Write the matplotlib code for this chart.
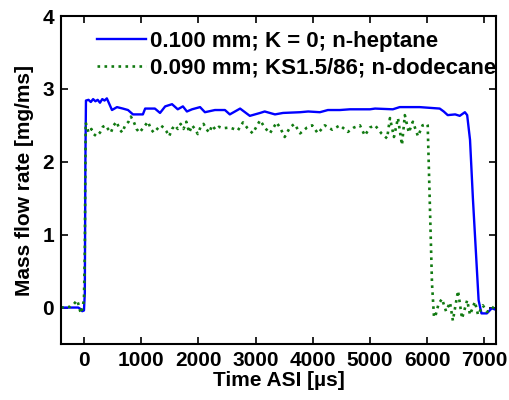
import numpy as np
import matplotlib.pyplot as plt

plt.rcParams['font.family'] = ['Liberation Sans', 'DejaVu Sans']

# n-heptane, 0.100 mm, K = 0
t_hep = [-400, -100, -60, -30, 0, 15, 25, 35, 80, 120, 160, 200, 240, 280, 320, 360, 400,
         490, 577, 680, 770, 857, 1030, 1070, 1240, 1330, 1420, 1540, 1640, 1730, 1800,
         1890, 2030, 2115, 2290, 2465, 2550, 2730, 2900, 3080, 3160, 3340, 3480, 3780,
         3920, 4125, 4265, 4475, 4650, 5000, 5090, 5400, 5520, 5870, 6220, 6290, 6360,
         6490, 6570, 6660, 6700, 6750, 6800, 6900, 6950, 7045, 7130, 7200]
m_hep = [0.0, 0.0, -0.02, -0.05, -0.04, 0.2, 2.0, 2.84, 2.85, 2.82, 2.86, 2.83, 2.85, 2.81,
         2.86, 2.84, 2.87, 2.71, 2.75, 2.73, 2.71, 2.65, 2.65, 2.73, 2.73, 2.67, 2.76, 2.79,
         2.72, 2.76, 2.69, 2.72, 2.75, 2.68, 2.71, 2.71, 2.65, 2.73, 2.63, 2.67, 2.69, 2.65,
         2.67, 2.68, 2.69, 2.68, 2.71, 2.71, 2.72, 2.72, 2.73, 2.72, 2.75, 2.75, 2.73, 2.69,
         2.64, 2.65, 2.63, 2.68, 2.64, 2.3, 1.5, 0.1, -0.08, -0.08, -0.01, -0.03]

# n-dodecane, 0.090 mm, KS1.5/86
t_dod = [-400, -245, -175, -120, -90, -70, -50, -20, 0, 15, 30, 80, 130, 170, 220, 280,
         330, 380, 420, 470, 520, 570, 620, 670, 720, 780, 820, 870, 920, 970, 1020, 1070,
         1120, 1170, 1220, 1280, 1340, 1390, 1440, 1490, 1540, 1590, 1640, 1690, 1740,
         1790, 1840, 1890, 1940, 1990, 2040, 2090, 2140, 2190, 2240, 2300, 2360, 2430,
         2550, 2690, 2780, 2860, 2950, 3080, 3160, 3250, 3370, 3440, 3510, 3600, 3680,
         3780, 3900, 3990, 4090, 4210, 4340, 4475, 4615, 4720, 4825, 4910, 5000, 5090,
         5200, 5300, 5350, 5420, 5490, 5560, 5610, 5680, 5750, 5840, 5920, 6000, 6010,
         6085, 6120, 6140, 6200, 6260, 6330, 6400, 6450, 6540, 6610, 6700, 6750, 6835,
         6890, 6975, 7045, 7130, 7185]
m_dod = [0.0, 0.01, 0.05, 0.1, 0.03, -0.04, -0.08, 0.03, 0.1, 0.8, 2.54, 2.40, 2.45, 2.38,
         2.35, 2.40, 2.48, 2.50, 2.45, 2.40, 2.50, 2.55, 2.45, 2.40, 2.50, 2.55, 2.62, 2.55,
         2.45, 2.40, 2.45, 2.50, 2.55, 2.45, 2.40, 2.45, 2.50, 2.47, 2.42, 2.35, 2.45, 2.50,
         2.45, 2.52, 2.45, 2.55, 2.40, 2.50, 2.45, 2.38, 2.48, 2.52, 2.45, 2.40, 2.50, 2.44,
         2.48, 2.46, 2.47, 2.43, 2.54, 2.46, 2.39, 2.57, 2.47, 2.39, 2.54, 2.45, 2.34, 2.47,
         2.52, 2.39, 2.47, 2.50, 2.39, 2.50, 2.44, 2.50, 2.41, 2.47, 2.50, 2.36, 2.47, 2.50,
         2.39, 2.32, 2.60, 2.34, 2.60, 2.23, 2.64, 2.40, 2.55, 2.35, 2.50, 2.52, 2.50, 0.33,
         -0.13, -0.13, 0.05, 0.12, -0.05, 0.07, -0.18, 0.23, -0.15, 0.10, -0.10, 0.08, -0.10,
         0.03, -0.06, -0.02, 0.03]

fig = plt.figure(figsize=(5.09, 4.0), dpi=100)
ax = fig.add_axes([0.12, 0.14, 0.854, 0.82])

ax.plot(t_hep, m_hep, color='#0000ff', lw=1.7, label='0.100 mm; K = 0; n-heptane')
ax.plot(t_dod, m_dod, color='#117a11', lw=1.9, ls=':', label='0.090 mm; KS1.5/86; n-dodecane')

ax.set_xlim(-400, 7200)
ax.set_ylim(-0.5, 4)
ax.set_xticks(np.arange(0, 7001, 1000))
ax.set_yticks([0, 1, 2, 3, 4])
ax.tick_params(direction='in', top=True, right=True, length=5, width=1.2,
               labelsize=15, pad=5)
for lab in ax.get_xticklabels() + ax.get_yticklabels():
    lab.set_fontweight('bold')
for s in ax.spines.values():
    s.set_linewidth(1.5)

ax.set_xlabel('Time ASI [\u00b5s]', fontsize=15, fontweight='bold', labelpad=1)
ax.set_ylabel('Mass flow rate [mg/ms]', fontsize=15, fontweight='bold', labelpad=6)

leg = ax.legend(loc='upper left', bbox_to_anchor=(0.083, 0.955), frameon=False,
                prop={'size': 16, 'weight': 'bold'}, handlelength=2.2,
                handletextpad=0.2, labelspacing=0.25, borderpad=0, borderaxespad=0)

fig.savefig('out.png', dpi=100)
